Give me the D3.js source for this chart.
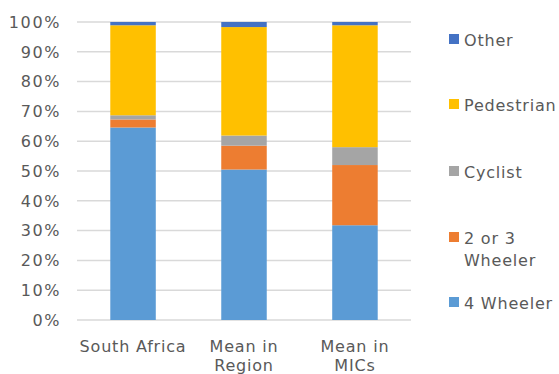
<!DOCTYPE html>
<head>
    <meta charset="utf-8">
    <title>Road deaths by user type</title>
    <style>
        body { margin: 0; background: #fff; }
        text { font-family: "DejaVu Sans", sans-serif; fill: #595959; letter-spacing: 0.8px; }
    </style>
</head>
<body>
<svg width="559" height="374"></svg>

<script src="https://d3js.org/d3.v7.min.js"></script>
<script>

    // data
    var categories = [["South Africa"], ["Mean in", "Region"], ["Mean in", "MICs"]];
    var series = ["4 Wheeler", "2 or 3 Wheeler", "Cyclist", "Pedestrian", "Other"];
    var fourWheeler = [64.6, 50.5, 31.8];
    var twoThreeWheeler = [2.7, 8.0, 20.2];
    var cyclist = [1.4, 3.4, 6.0];
    var pedestrian = [30.2, 36.4, 40.9];
    var other = [1.1, 1.7, 1.1];
    var tickValues = [0, 10, 20, 30, 40, 50, 60, 70, 80, 90, 100];

    var colors = ["#5B9BD5", "#ED7D31", "#A5A5A5", "#FFC000", "#4472C4"];

    var svg = d3.select("svg");

    // build rows for the stack
    var rows = categories.map((c, i) => ({
        key: c.join(" "),
        "4 Wheeler": fourWheeler[i],
        "2 or 3 Wheeler": twoThreeWheeler[i],
        "Cyclist": cyclist[i],
        "Pedestrian": pedestrian[i],
        "Other": other[i]
    }));

    var x = d3.scaleBand()
        .domain(rows.map(d => d.key))
        .range([77, 411])
        .paddingInner(0.59)
        .paddingOuter(0.3);

    var y = d3.scaleLinear()
        .domain([0, 100])
        .range([320, 22]);

    //gridlines
    svg.append("g")
        .selectAll("line")
        .data(tickValues)
        .enter().append("line")
            .attr("x1", 77)
            .attr("x2", 411)
            .attr("y1", d => y(d))
            .attr("y2", d => y(d))
            .attr("stroke", "#d9d9d9")
            .attr("stroke-width", 1.5);

    //y labels
    svg.append("g")
        .selectAll("text")
        .data(tickValues)
        .enter().append("text")
            .attr("x", 61)
            .attr("y", d => y(d))
            .attr("dy", "0.36em")
            .attr("text-anchor", "end")
            .attr("font-size", 16)
            .style("letter-spacing", "1.6px")
            .text(d => d + "%");

    //stacked bars
    var stacked = d3.stack().keys(series)(rows);

    svg.append("g")
        .selectAll("g")
        .data(stacked)
        .enter().append("g")
            .attr("fill", (d, i) => colors[i])
        .selectAll("rect")
        .data(d => d)
        .enter().append("rect")
            .attr("x", d => x(d.data.key))
            .attr("width", x.bandwidth())
            .attr("y", d => y(d[1]))
            .attr("height", d => y(d[0]) - y(d[1]));

    //category labels
    var cat = svg.append("g")
        .selectAll("text")
        .data(categories)
        .enter().append("text")
            .attr("x", (d, i) => x(rows[i].key) + x.bandwidth() / 2)
            .attr("y", 352)
            .attr("text-anchor", "middle")
            .attr("font-size", 16);
    cat.selectAll("tspan")
        .data(d => d)
        .enter().append("tspan")
            .attr("x", function () { return d3.select(this.parentNode).attr("x"); })
            .attr("dy", (d, i) => i ? 19 : 0)
            .text(d => d);

    //legend
    var legendItems = [
        { name: "Other", lines: ["Other"], y: 40 },
        { name: "Pedestrian", lines: ["Pedestrian"], y: 105 },
        { name: "Cyclist", lines: ["Cyclist"], y: 172 },
        { name: "2 or 3 Wheeler", lines: ["2 or 3", "Wheeler"], y: 238 },
        { name: "4 Wheeler", lines: ["4 Wheeler"], y: 303 }
    ];

    var lg = svg.append("g")
        .selectAll("g")
        .data(legendItems)
        .enter().append("g")
            .attr("transform", d => "translate(449," + d.y + ")");
    lg.append("rect")
        .attr("x", 0)
        .attr("y", -6)
        .attr("width", 10)
        .attr("height", 10)
        .attr("fill", d => colors[series.indexOf(d.name)]);
    var lt = lg.append("text")
        .attr("x", 15)
        .attr("y", 6)
        .attr("font-size", 16);
    lt.selectAll("tspan")
        .data(d => d.lines)
        .enter().append("tspan")
            .attr("x", 15)
            .attr("dy", (d, i) => i ? 22 : 0)
            .text(d => d);

</script>
</body>
